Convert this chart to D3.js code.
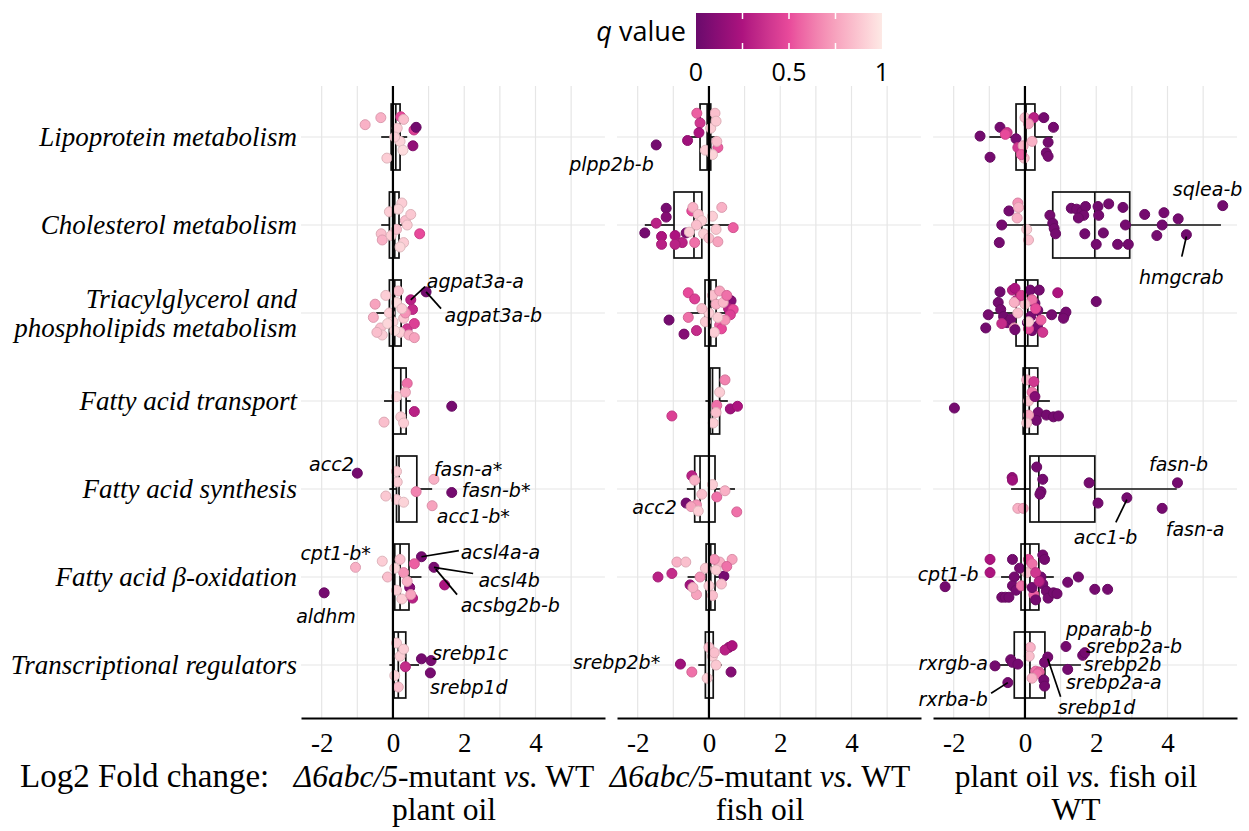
<!DOCTYPE html>
<html>
<head>
<meta charset="utf-8">
<script src="https://cdn.jsdelivr.net/npm/d3@7"></script>
<style>
  body { margin: 0; background: #fff; }
  svg { display: block; }
</style>
</head>
<body>
<div id="chart"></div>
<script>
// gene groups, top to bottom
var categories = ["Lipoprotein metabolism", "Cholesterol metabolism",
    "Triacylglycerol and\nphospholipids metabolism", "Fatty acid transport",
    "Fatty acid synthesis", "Fatty acid β-oxidation", "Transcriptional regulators"];

var xTicks = [-2, 0, 2, 4];
var qTicks = [0, 0.5, 1];
var qTickMarks = [0.25, 0.5, 0.75];

// points: [category index, log2 fold change, q value, vertical jitter (share of row)]
var plantMutantPoints = [
    [0,-0.78,0.8,-0.14],[0,-0.34,0.8,-0.22],[0,0.22,0.5,-0.23],[0,0.59,0.45,-0.08],[0,0.65,0.03,-0.11],
    [0,0.56,0.15,0.1],[0,-0.17,0.9,0.24],[0,0.12,0.9,-0.1],[0,0.2,0.92,0.05],[0,0.28,0.95,0.15],
    [0,0.05,0.9,0.0],[0,0.3,0.85,-0.2],
    [1,0.25,0.9,-0.25],[1,0.35,0.85,-0.05],[1,0.4,0.9,0.0],[1,-0.1,0.9,-0.15],[1,-0.33,0.85,0.1],
    [1,-0.3,0.8,0.17],[1,-0.05,0.9,0.12],[1,0.75,0.5,0.1],[1,0.15,0.92,-0.18],[1,0.3,0.9,0.2],
    [1,0.1,0.85,0.05],[1,0.5,0.88,-0.12],[1,0.2,0.93,0.25],
    [2,0.5,0.3,-0.15],[2,0.93,0.03,-0.24],[2,0.55,0.35,-0.04],[2,0.4,0.4,0.18],[2,0.6,0.45,0.12],
    [2,-0.5,0.75,-0.1],[2,-0.55,0.8,0.05],[2,-0.35,0.85,0.17],[2,-0.2,0.9,-0.2],[2,-0.1,0.9,0.0],
    [2,0.0,0.92,0.1],[2,0.1,0.95,-0.12],[2,0.2,0.9,0.22],[2,0.3,0.88,0.06],[2,-0.3,0.9,0.25],
    [2,0.15,0.85,-0.25],[2,0.35,0.7,0.0],[2,-0.45,0.85,0.22],[2,0.05,0.95,0.2],[2,-0.15,0.93,0.12],
    [2,0.25,0.9,-0.05],[2,0.45,0.8,0.25],[2,0.6,0.75,0.28],
    [3,0.4,0.6,-0.2],[3,0.35,0.8,-0.1],[3,0.6,0.3,0.12],[3,1.65,0.04,0.06],[3,-0.25,0.85,0.24],
    [3,0.22,0.9,0.18],[3,0.1,0.92,-0.05],[3,0.3,0.9,0.25],
    [4,-1.0,0.04,-0.18],[4,1.15,0.8,-0.11],[4,1.65,0.04,0.04],[4,1.1,0.75,0.19],[4,0.1,0.9,-0.2],
    [4,0.12,0.9,-0.08],[4,0.65,0.65,0.03],[4,0.1,0.9,0.12],[4,-0.2,0.88,0.08],[4,0.3,0.92,0.15],
    [5,-1.05,0.8,-0.11],[5,-1.93,0.04,0.18],[5,0.8,0.04,-0.23],[5,1.15,0.06,-0.11],[5,1.45,0.25,0.09],
    [5,0.55,0.3,0.24],[5,0.47,0.1,0.12],[5,0.2,0.85,-0.2],[5,0.3,0.7,-0.05],[5,0.4,0.8,0.05],
    [5,0.1,0.9,0.15],[5,-0.15,0.85,0.0],[5,0.25,0.9,0.25],[5,0.6,0.55,-0.15],[5,0.05,0.92,-0.1],
    [5,0.5,0.75,0.2],[5,-0.3,0.9,-0.18],
    [6,0.8,0.04,-0.07],[6,1.07,0.05,-0.05],[6,1.05,0.05,0.09],[6,0.35,0.35,0.02],[6,0.1,0.9,-0.25],
    [6,0.2,0.9,-0.1],[6,0.05,0.92,0.12],[6,0.15,0.85,0.25],[6,0.3,0.9,-0.18]
];

var fishMutantPoints = [
    [0,-0.34,0.55,-0.27],[0,-0.25,0.4,-0.16],[0,-0.28,0.25,-0.05],[0,-0.6,0.2,0.04],[0,0.17,0.85,-0.27],
    [0,0.25,0.55,0.12],[0,0.22,0.85,0.05],[0,-1.48,0.04,0.09],[0,0.05,0.9,-0.1],[0,0.1,0.92,0.2],
    [0,-0.1,0.9,0.15],[0,0.2,0.88,-0.18],
    [1,-1.2,0.05,-0.19],[1,-1.2,0.1,-0.09],[1,-1.48,0.3,-0.02],[1,-1.8,0.04,0.09],[1,-1.33,0.25,0.13],
    [1,-1.33,0.3,0.22],[1,-0.95,0.25,0.12],[1,-0.64,0.08,0.09],[1,-0.75,0.3,0.2],[1,-0.95,0.3,0.22],
    [1,-0.48,0.5,-0.16],[1,-0.45,0.8,-0.2],[1,-0.3,0.85,-0.12],[1,-0.2,0.9,-0.05],[1,-0.35,0.85,0.0],
    [1,-0.15,0.9,0.1],[1,0.0,0.85,0.15],[1,0.1,0.9,-0.1],[1,0.2,0.88,0.05],[1,0.36,0.8,-0.2],
    [1,0.68,0.55,0.03],[1,0.25,0.75,0.19],[1,-0.4,0.6,0.2],[1,-0.55,0.9,0.08],
    [2,-0.58,0.5,-0.23],[2,-0.4,0.45,-0.16],[2,-1.12,0.04,0.08],[2,-0.7,0.1,0.24],[2,-0.35,0.35,0.2],
    [2,0.62,0.1,-0.14],[2,0.55,0.3,-0.05],[2,0.68,0.5,-0.04],[2,0.6,0.45,0.02],[2,0.3,0.55,0.14],
    [2,0.35,0.5,0.18],[2,-0.58,0.6,0.05],[2,0.1,0.85,-0.2],[2,0.2,0.8,-0.1],[2,0.3,0.75,-0.25],
    [2,0.4,0.82,-0.12],[2,-0.1,0.88,0.1],[2,0.0,0.9,0.0],[2,0.15,0.9,0.22],[2,0.45,0.7,0.08],
    [2,-0.2,0.85,-0.05],[2,0.25,0.9,0.05],[2,0.5,0.6,-0.2],
    [3,0.22,0.6,0.05],[3,0.6,0.2,0.09],[3,0.8,0.25,0.06],[3,-1.04,0.45,0.17],[3,0.45,0.65,-0.24],
    [3,0.2,0.85,0.13],[3,0.12,0.9,0.25],[3,0.3,0.9,-0.1],
    [4,-0.64,0.04,0.16],[4,-0.48,0.3,-0.15],[4,-0.4,0.8,-0.1],[4,0.22,0.6,0.09],[4,0.45,0.8,0.02],
    [4,0.78,0.6,0.26],[4,-0.35,0.7,0.18],[4,-0.5,0.75,0.2],[4,-0.2,0.85,0.06],[4,0.1,0.9,-0.05],
    [4,-0.3,0.9,0.25],
    [5,-1.43,0.3,0.0],[5,-1.04,0.35,-0.04],[5,-0.53,0.2,0.09],[5,0.42,0.05,-0.01],[5,-0.9,0.8,-0.17],
    [5,-0.65,0.85,-0.17],[5,-0.25,0.7,0.0],[5,-0.35,0.75,0.2],[5,0.1,0.85,0.21],[5,0.3,0.8,-0.17],
    [5,0.65,0.75,-0.2],[5,0.5,0.6,-0.12],[5,0.2,0.9,-0.08],[5,0.0,0.9,0.1],[5,-0.1,0.88,-0.1],
    [5,0.35,0.85,0.08],[5,0.15,0.7,-0.2],[5,-0.45,0.8,0.12],
    [6,-0.8,0.2,-0.01],[6,-0.48,0.6,0.08],[6,0.56,0.2,-0.2],[6,0.45,0.3,-0.17],[6,0.65,0.25,-0.22],
    [6,0.62,0.1,0.08],[6,0.0,0.85,-0.2],[6,0.1,0.9,-0.1],[6,0.15,0.85,-0.14],[6,-0.05,0.9,0.15],
    [6,0.2,0.88,0.0]
];

var wtOilPoints = [
    [0,-1.26,0.03,-0.01],[0,-0.98,0.04,0.23],[0,-0.7,0.04,-0.11],[0,-0.5,0.4,-0.05],[0,-0.55,0.5,-0.03],
    [0,-0.25,0.05,0.02],[0,-0.2,0.4,0.12],[0,0.0,0.85,-0.22],[0,-0.05,0.8,0.1],[0,-0.02,0.85,0.24],
    [0,0.25,0.3,-0.22],[0,0.53,0.04,-0.22],[0,0.8,0.04,-0.11],[0,0.65,0.04,0.06],[0,0.6,0.05,0.18],
    [0,0.65,0.05,0.22],[0,-0.1,0.55,0.2],[0,0.1,0.75,-0.15],[0,0.2,0.8,0.05],
    [1,0.7,0.04,-0.11],[1,0.78,0.03,-0.02],[1,0.82,0.04,0.04],[1,0.86,0.04,0.1],[1,1.3,0.03,-0.19],
    [1,1.45,0.04,-0.18],[1,1.6,0.04,-0.15],[1,1.7,0.03,-0.21],[1,1.65,0.04,-0.11],[1,1.5,0.04,-0.08],
    [1,1.68,0.03,0.1],[1,2.05,0.03,-0.21],[1,2.07,0.04,-0.11],[1,2.2,0.03,0.09],[1,2.35,0.04,-0.24],
    [1,2.0,0.04,0.22],[1,2.6,0.04,0.22],[1,2.75,0.03,-0.2],[1,2.82,0.04,0.0],[1,2.9,0.04,0.22],
    [1,3.36,0.04,-0.12],[1,3.9,0.04,-0.14],[1,3.85,0.03,0.0],[1,3.7,0.04,0.12],[1,4.3,0.04,-0.07],
    [1,4.53,0.03,0.11],[1,5.55,0.03,-0.22],[1,-0.45,0.04,-0.16],[1,-0.65,0.04,0.0],[1,-0.72,0.04,0.2],
    [1,-0.2,0.7,-0.25],[1,-0.18,0.8,-0.2],[1,-0.22,0.8,-0.08],[1,0.1,0.85,0.17],[1,0.05,0.9,0.05],
    [2,-1.1,0.03,0.17],[2,-1.03,0.05,0.02],[2,-0.7,0.03,-0.24],[2,-0.75,0.04,-0.12],[2,-0.68,0.04,-0.04],
    [2,-0.6,0.03,0.04],[2,-0.5,0.04,0.11],[2,-0.4,0.04,0.07],[2,-0.65,0.35,0.12],[2,-0.35,0.3,-0.26],
    [2,-0.28,0.25,-0.28],[2,-0.25,0.35,-0.14],[2,-0.3,0.8,-0.12],[2,-0.2,0.85,0.0],[2,-0.3,0.75,0.17],
    [2,-0.28,0.04,0.19],[2,0.15,0.04,-0.26],[2,0.4,0.04,-0.26],[2,0.28,0.05,-0.11],[2,0.36,0.04,-0.03],
    [2,0.16,0.05,0.04],[2,0.07,0.04,0.11],[2,0.2,0.05,0.2],[2,0.35,0.04,0.15],[2,0.5,0.4,0.22],
    [2,0.1,0.5,0.18],[2,0.92,0.25,-0.23],[2,0.75,0.04,0.02],[2,1.1,0.04,0.03],[2,1.15,0.04,-0.01],
    [2,1.08,0.05,0.06],[2,2.0,0.03,-0.13],[2,0.2,0.6,-0.15],[2,0.3,0.5,-0.05],[2,0.0,0.85,-0.1],
    [2,0.1,0.9,0.1],[2,0.45,0.55,0.08],[2,-0.1,0.45,-0.2],
    [3,-1.98,0.04,0.08],[3,0.37,0.04,0.13],[3,0.6,0.04,0.16],[3,0.8,0.04,0.18],[3,0.94,0.04,0.17],
    [3,0.32,0.04,0.22],[3,0.05,0.8,-0.24],[3,0.1,0.75,0.16],[3,0.2,0.6,-0.1],[3,0.25,0.4,-0.22],
    [3,0.1,0.85,0.0],[3,0.05,0.9,0.25],[3,0.28,0.1,-0.05],
    [4,0.33,0.04,-0.25],[4,0.5,0.04,-0.11],[4,0.45,0.04,0.03],[4,0.42,0.05,0.06],[4,-0.36,0.15,-0.13],
    [4,-0.35,0.2,-0.1],[4,-0.2,0.8,0.22],[4,-0.05,0.75,0.22],[4,1.8,0.04,-0.07],[4,2.05,0.04,0.16],
    [4,2.86,0.04,0.1],[4,4.28,0.04,-0.07],[4,3.85,0.04,0.22],
    [5,-2.24,0.04,0.11],[5,-0.98,0.25,-0.2],[5,-0.98,0.25,-0.05],[5,-0.65,0.04,0.23],[5,-0.55,0.04,0.23],
    [5,-0.45,0.04,0.23],[5,-0.35,0.04,-0.2],[5,-0.3,0.04,0.0],[5,-0.35,0.04,0.1],[5,-0.25,0.04,0.15],
    [5,-0.1,0.6,0.1],[5,0.1,0.5,-0.2],[5,0.2,0.6,-0.15],[5,0.25,0.55,0.2],[5,0.5,0.04,-0.25],
    [5,0.55,0.04,-0.2],[5,0.45,0.04,0.0],[5,0.5,0.04,0.08],[5,0.6,0.04,0.16],[5,0.65,0.04,0.24],
    [5,0.8,0.04,0.18],[5,0.9,0.04,0.19],[5,0.3,0.04,0.26],[5,0.2,0.04,0.12],[5,1.2,0.04,0.06],
    [5,1.5,0.04,0.0],[5,1.96,0.04,0.14],[5,2.32,0.04,0.14],[5,0.05,0.85,-0.05],[5,0.3,0.4,-0.05],
    [5,0.4,0.3,0.05],[5,-0.15,0.04,-0.1],
    [6,-0.84,0.04,0.01],[6,-0.4,0.04,-0.06],[6,-0.35,0.05,-0.03],[6,-0.2,0.04,-0.01],[6,-0.48,0.04,0.2],
    [6,0.15,0.8,-0.2],[6,0.12,0.85,-0.1],[6,0.3,0.6,0.07],[6,0.4,0.55,0.08],[6,0.35,0.6,0.1],
    [6,0.64,0.04,-0.09],[6,0.55,0.05,-0.03],[6,0.53,0.04,0.17],[6,0.55,0.04,0.24],[6,1.15,0.04,-0.21],
    [6,1.62,0.04,-0.11],[6,1.68,0.04,-0.14],[6,1.2,0.04,0.05],[6,0.2,0.8,0.15]
];

// box stats per category: [lower whisker, Q1, median, Q3, upper whisker]
var plantMutantBoxes = [
    [-0.33,-0.05,0.08,0.2,0.4], [-0.33,-0.1,0.05,0.17,0.36], [-0.47,-0.1,0.05,0.23,0.6],
    [-0.25,0.0,0.22,0.37,0.5], [-0.1,0.1,0.17,0.67,1.1], [-0.3,0.05,0.2,0.45,0.8],
    [-0.1,0.03,0.15,0.36,0.73]
];
var fishMutantBoxes = [
    [-0.6,-0.25,-0.05,0.05,0.25], [-1.8,-0.98,-0.42,-0.2,0.6], [-0.58,-0.11,0.05,0.2,0.68],
    [-0.1,0.03,0.1,0.3,0.53], [-0.62,-0.4,-0.25,0.17,0.73], [-0.6,-0.08,0.05,0.17,0.5],
    [-0.3,-0.1,0.0,0.12,0.36]
];
var wtOilBoxes = [
    [-1.0,-0.25,0.03,0.28,0.78], [-0.53,0.78,1.96,2.94,5.5], [-1.03,-0.25,0.08,0.36,1.2],
    [-0.05,-0.05,0.12,0.36,0.7], [-0.39,0.14,0.39,1.96,4.26], [-0.67,-0.11,0.14,0.39,0.81],
    [-0.87,-0.3,0.14,0.56,1.57]
];

// gene labels: [category, text, label x, label jitter, anchor, leader from [x, j] or null, leader to [x, j]]
var plantMutantLabels = [
    [2,"agpat3a-a",0.95,-0.36,"start",[0.5,-0.15],[0.9,-0.3]],
    [2,"agpat3a-b",1.45,0.03,"start",[0.93,-0.24],[1.35,-0.05]],
    [4,"acc2",-1.1,-0.28,"end",null,null],
    [4,"fasn-a*",1.15,-0.22,"start",null,null],
    [4,"fasn-b*",1.93,0.02,"start",null,null],
    [4,"acc1-b*",1.23,0.31,"start",null,null],
    [5,"cpt1-b*",-0.62,-0.27,"end",null,null],
    [5,"aldhm",-1.88,0.45,"middle",null,null],
    [5,"acsl4a-a",1.9,-0.28,"start",[0.8,-0.23],[1.85,-0.3]],
    [5,"acsl4b",2.4,0.04,"start",[1.15,-0.11],[2.25,-0.04]],
    [5,"acsbg2b-b",1.9,0.32,"start",[1.2,-0.09],[1.8,0.2]],
    [6,"srebp1c",1.1,-0.13,"start",null,null],
    [6,"srebp1d",1.04,0.25,"start",null,null]
];
var fishMutantLabels = [
    [0,"plpp2b-b",-1.55,0.31,"end",null,null],
    [4,"acc2",-0.9,0.21,"end",null,null],
    [6,"srebp2b*",-1.37,-0.03,"end",null,null]
];
var wtOilLabels = [
    [1,"sqlea-b",4.15,-0.4,"start",null,null],
    [1,"hmgcrab",3.2,0.6,"start",[4.53,0.13],[4.4,0.36]],
    [4,"fasn-b",3.48,-0.28,"start",null,null],
    [4,"acc1-b",1.37,0.55,"start",[2.86,0.12],[2.55,0.38]],
    [4,"fasn-a",3.95,0.46,"start",null,null],
    [5,"cpt1-b",-1.3,-0.03,"end",null,null],
    [6,"pparab-b",1.15,-0.4,"start",null,null],
    [6,"srebp2a-b",1.71,-0.21,"start",null,null],
    [6,"srebp2b",1.65,-0.01,"start",null,null],
    [6,"srebp2a-a",1.15,0.2,"start",null,null],
    [6,"srebp1d",0.92,0.48,"start",[0.64,-0.07],[1.0,0.36]],
    [6,"rxrgb-a",-1.04,-0.02,"end",null,null],
    [6,"rxrba-b",-1.04,0.39,"end",[-0.48,0.2],[-0.95,0.32]]
];

var panels = [
    {points: plantMutantPoints, boxes: plantMutantBoxes, labels: plantMutantLabels,
     title: [[["Δ6abc/5", true], ["-mutant ", false], ["vs.", true], [" WT", false]], [["plant oil", false]]]},
    {points: fishMutantPoints, boxes: fishMutantBoxes, labels: fishMutantLabels,
     title: [[["Δ6abc/5", true], ["-mutant ", false], ["vs.", true], [" WT", false]], [["fish oil", false]]]},
    {points: wtOilPoints, boxes: wtOilBoxes, labels: wtOilLabels,
     title: [[["plant oil ", false], ["vs.", true], [" fish oil", false]], [["WT", false]]]}
];

var width = 1249, height = 831;
var panelTop = 86, panelBottom = 718;
var serif = "'Liberation Serif', 'Times New Roman', serif";
var sans = "'DejaVu Sans', Verdana, sans-serif";

var svg = d3.select("#chart")
    .append("svg")
    .attr("width", width)
    .attr("height", height);

// colour scale for q value
var color = d3.scaleLinear()
    .domain([0, 0.25, 0.5, 0.75, 1])
    .range(["#6a0a6c", "#ad137f", "#e84a9b", "#f7a3be", "#fde9e5"])
    .interpolate(d3.interpolateLab);

var panelX = d3.scaleBand()
    .domain(d3.range(panels.length))
    .range([301, 1237])
    .paddingInner(0.038);

var x = d3.scaleLinear()
    .domain([-2.58, 5.95])
    .range([0, panelX.bandwidth()]);

var y = d3.scaleBand()
    .domain(d3.range(categories.length))
    .range([93, 709]);

function rowY(cat, j) {
    return y(cat) + y.bandwidth() / 2 + j * y.bandwidth();
}

// Y axis labels
categories.forEach(function(c, i) {
    var lines = c.split("\n");
    var t = svg.append("text")
        .attr("x", 297)
        .attr("y", rowY(i, 0))
        .attr("text-anchor", "end")
        .style("font-family", serif)
        .style("font-style", "italic")
        .style("font-size", "27px");
    lines.forEach(function(l, k) {
        t.append("tspan")
            .attr("x", 297)
            .attr("dy", k == 0 ? (0.35 - (lines.length - 1) * 0.55) + "em" : "1.1em")
            .text(l);
    });
});

panels.forEach(function(p, pi) {
    var g = svg.append("g")
        .attr("transform", "translate(" + panelX(pi) + ",0)");

    // grid
    g.selectAll(".vgrid")
        .data(x.ticks(10))
        .enter().append("line")
        .attr("x1", d => x(d)).attr("x2", d => x(d))
        .attr("y1", panelTop).attr("y2", panelBottom)
        .attr("stroke", "#e6e6e6")
        .attr("stroke-width", 1.2);
    g.selectAll(".hgrid")
        .data(categories)
        .enter().append("line")
        .attr("x1", 0).attr("x2", panelX.bandwidth())
        .attr("y1", (d, i) => rowY(i, 0)).attr("y2", (d, i) => rowY(i, 0))
        .attr("stroke", "#e6e6e6")
        .attr("stroke-width", 1.2);

    // boxplots
    var bh = y.bandwidth() * 0.75;
    var box = g.selectAll(".box")
        .data(p.boxes)
        .enter().append("g")
        .attr("class", "box");
    box.append("line")
        .attr("x1", d => x(d[0])).attr("x2", d => x(d[1]))
        .attr("y1", (d, i) => rowY(i, 0)).attr("y2", (d, i) => rowY(i, 0));
    box.append("line")
        .attr("x1", d => x(d[3])).attr("x2", d => x(d[4]))
        .attr("y1", (d, i) => rowY(i, 0)).attr("y2", (d, i) => rowY(i, 0));
    box.append("rect")
        .attr("x", d => x(d[1]))
        .attr("width", d => x(d[3]) - x(d[1]))
        .attr("y", (d, i) => rowY(i, 0) - bh / 2)
        .attr("height", bh)
        .attr("fill", "none");
    box.append("line")
        .attr("x1", d => x(d[2])).attr("x2", d => x(d[2]))
        .attr("y1", (d, i) => rowY(i, 0) - bh / 2).attr("y2", (d, i) => rowY(i, 0) + bh / 2);
    box.selectAll("line, rect")
        .attr("stroke", "#111")
        .attr("stroke-width", 1.7);

    // points
    g.selectAll(".pt")
        .data(p.points)
        .enter().append("circle")
        .attr("cx", d => x(d[1]))
        .attr("cy", d => rowY(d[0], d[3]))
        .attr("r", 5)
        .attr("fill", d => color(d[2]))
        .attr("stroke", d => d3.color(color(d[2])).darker(0.35))
        .attr("stroke-width", 1);

    // zero line
    g.append("line")
        .attr("x1", x(0)).attr("x2", x(0))
        .attr("y1", panelTop).attr("y2", panelBottom)
        .attr("stroke", "#000")
        .attr("stroke-width", 2.2);

    // gene labels and leaders
    p.labels.forEach(function(l) {
        if (l[5]) {
            g.append("line")
                .attr("x1", x(l[5][0])).attr("y1", rowY(l[0], l[5][1]))
                .attr("x2", x(l[6][0])).attr("y2", rowY(l[0], l[6][1]))
                .attr("stroke", "#000")
                .attr("stroke-width", 1.7);
        }
        g.append("text")
            .attr("x", x(l[2]))
            .attr("y", rowY(l[0], l[3]))
            .attr("dy", "0.35em")
            .attr("text-anchor", l[4])
            .style("font-family", sans)
            .style("font-style", "italic")
            .style("font-size", "19px")
            .text(l[1]);
    });

    // x axis
    var axis = g.append("g")
        .attr("transform", "translate(0," + panelBottom + ")")
        .call(d3.axisBottom(x).tickValues(xTicks).tickSize(0).tickSizeOuter(0).tickPadding(15)
            .tickFormat(d => String(d)));
    axis.select(".domain").attr("stroke", "#000").attr("stroke-width", 2);
    axis.selectAll("text")
        .style("font-family", serif)
        .style("font-size", "27px")
        .attr("fill", "#000");

    // panel title
    var cx = panelX.bandwidth() / 2 - 9;
    p.title.forEach(function(line, li) {
        var t = g.append("text")
            .attr("x", cx)
            .attr("y", 787 + li * 33)
            .attr("text-anchor", "middle")
            .style("font-family", serif)
            .style("font-size", "31.5px");
        line.forEach(function(part) {
            t.append("tspan")
                .style("font-style", part[1] ? "italic" : "normal")
                .text(part[0]);
        });
    });
});

svg.append("text")
    .attr("x", 20)
    .attr("y", 787)
    .style("font-family", serif)
    .style("font-size", "33px")
    .text("Log2 Fold change:");

// colour legend
var lx = d3.scaleLinear().domain([0, 1]).range([696, 882]);
var grad = svg.append("defs").append("linearGradient")
    .attr("id", "qgrad");
grad.selectAll("stop")
    .data(d3.range(0, 1.0001, 0.05))
    .enter().append("stop")
    .attr("offset", d => (d * 100) + "%")
    .attr("stop-color", d => color(d));
svg.append("rect")
    .attr("x", lx(0)).attr("y", 13)
    .attr("width", lx(1) - lx(0)).attr("height", 36)
    .attr("fill", "url(#qgrad)");
svg.selectAll(".qtick")
    .data(qTickMarks)
    .enter().append("g")
    .each(function(d) {
        var s = d3.select(this);
        s.append("line").attr("x1", lx(d)).attr("x2", lx(d)).attr("y1", 13).attr("y2", 19);
        s.append("line").attr("x1", lx(d)).attr("x2", lx(d)).attr("y1", 43).attr("y2", 49);
    })
    .selectAll("line")
    .attr("stroke", "#fff")
    .attr("stroke-width", 1.5);
svg.selectAll(".qlab")
    .data(qTicks)
    .enter().append("text")
    .attr("x", d => lx(d))
    .attr("y", 81)
    .attr("text-anchor", "middle")
    .style("font-family", "'Open Sans', sans-serif")
    .style("font-size", "25px")
    .text(d => String(d));
var qt = svg.append("text")
    .attr("x", 686)
    .attr("y", 41)
    .attr("text-anchor", "end")
    .style("font-family", "'Open Sans', sans-serif")
    .style("font-size", "27px");
qt.append("tspan").style("font-style", "italic").text("q");
qt.append("tspan").text(" value");
</script>
</body>
</html>
